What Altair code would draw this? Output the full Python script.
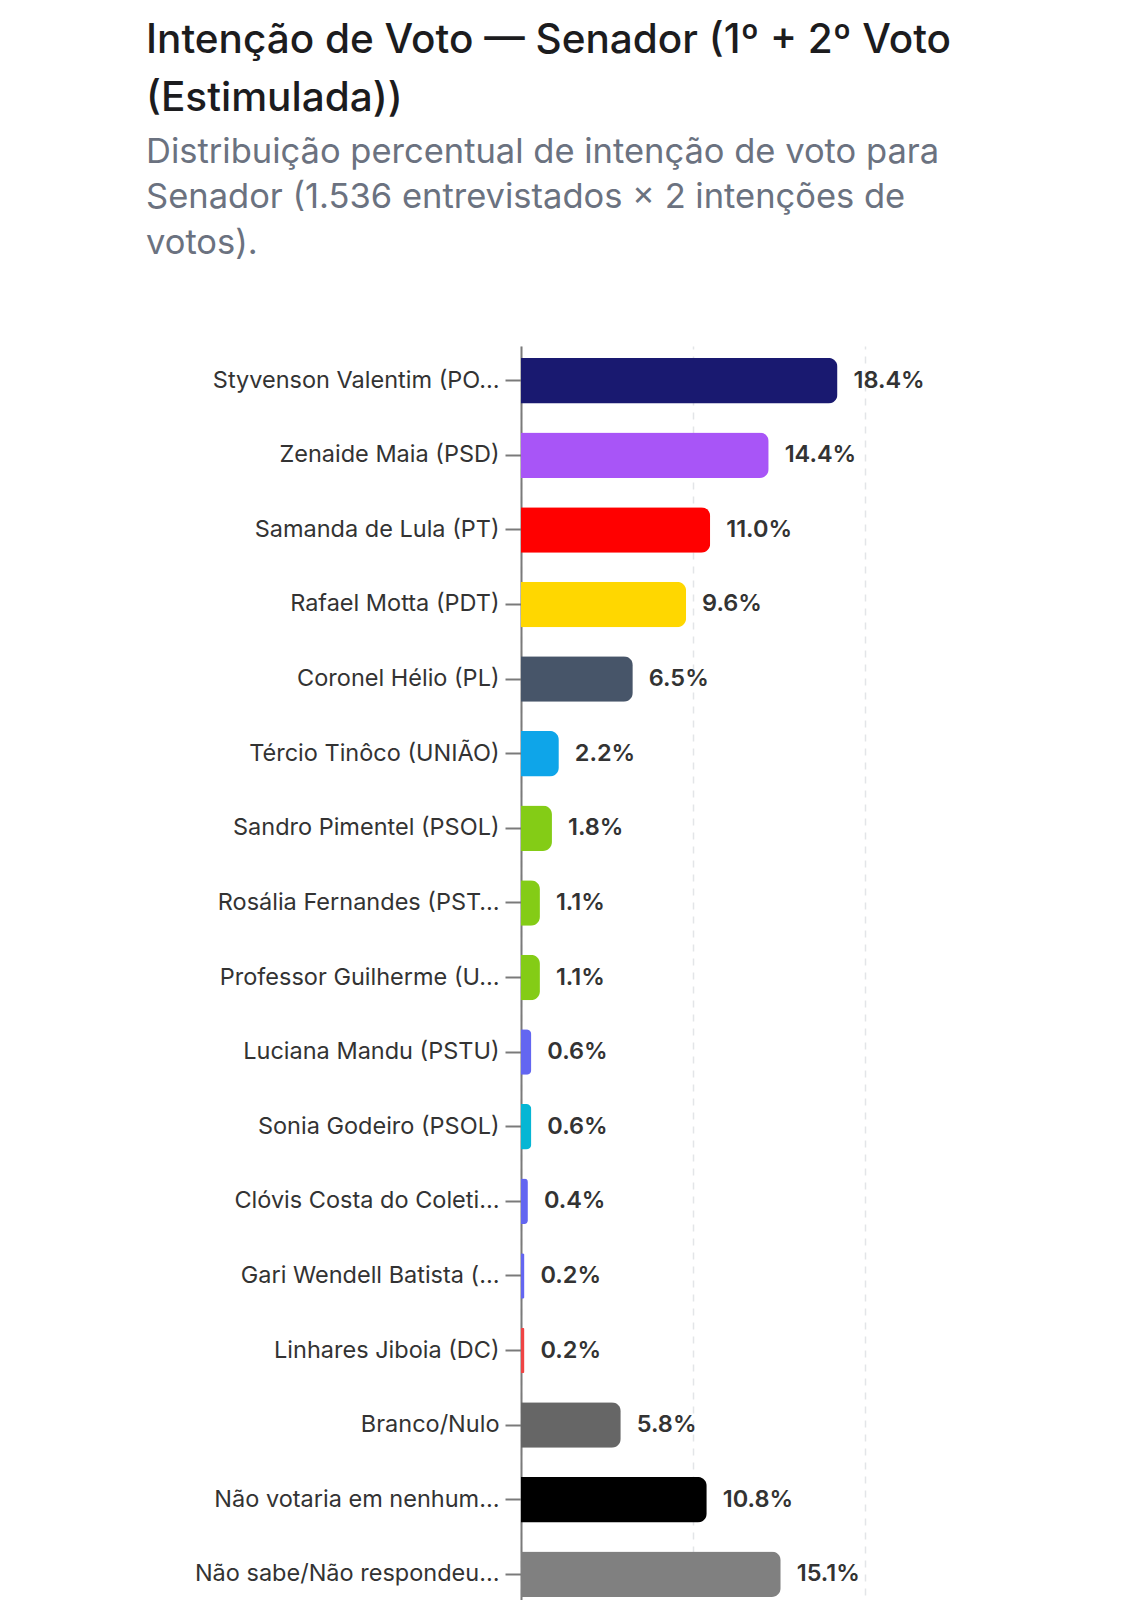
import altair as alt
import pandas as pd

candidatos = [
    "Styvenson Valentim (PO…",
    "Zenaide Maia (PSD)",
    "Samanda de Lula (PT)",
    "Rafael Motta (PDT)",
    "Coronel Hélio (PL)",
    "Tércio Tinôco (UNIÃO)",
    "Sandro Pimentel (PSOL)",
    "Rosália Fernandes (PST…",
    "Professor Guilherme (U…",
    "Luciana Mandu (PSTU)",
    "Sonia Godeiro (PSOL)",
    "Clóvis Costa do Coleti…",
    "Gari Wendell Batista (…",
    "Linhares Jiboia (DC)",
    "Branco/Nulo",
    "Não votaria em nenhum…",
    "Não sabe/Não respondeu…",
]
percentuais = [18.4, 14.4, 11.0, 9.6, 6.5, 2.2, 1.8, 1.1, 1.1, 0.6, 0.6, 0.4, 0.2, 0.2, 5.8, 10.8, 15.1]
cores = [
    "#191970", "#a855f7", "#ff0000", "#ffd700", "#475569", "#0ea5e9",
    "#84cc16", "#84cc16", "#84cc16", "#6366f1", "#06b6d4", "#6366f1",
    "#6366f1", "#ef4444", "#666666", "#000000", "#808080",
]

df = pd.DataFrame({"nome": candidatos, "pct": percentuais, "cor": cores})

FONT = "Inter"

y_enc = alt.Y(
    "nome:N",
    sort=None,
    title=None,
    scale=alt.Scale(paddingInner=0.39, paddingOuter=0.16),
    axis=alt.Axis(
        labelFontSize=23.5,
        labelFont=FONT,
        labelColor="#333333",
        labelLimit=500,
        labelPadding=6,
        tickSize=16,
        tickWidth=2,
        tickColor="#7a7a7a",
        domainColor="#7a7a7a",
        domainWidth=2,
    ),
)
x_enc = alt.X(
    "pct:Q",
    title=None,
    scale=alt.Scale(domain=[0, 20]),
    axis=alt.Axis(
        values=[0, 10, 20],
        grid=True,
        gridDash=[7, 7],
        gridColor="#e3e5e8",
        gridWidth=1.5,
        domain=False,
        ticks=False,
        labels=False,
    ),
)

bars = alt.Chart(df).mark_bar(cornerRadiusEnd=9).encode(
    x=x_enc,
    y=y_enc,
    color=alt.Color("nome:N", sort=None, scale=alt.Scale(domain=candidatos, range=cores), legend=None),
)

labels = alt.Chart(df).transform_calculate(
    rotulo="format(datum.pct, '.1f') + '%'"
).mark_text(
    align="left", baseline="middle", dx=16, fontSize=23.5, fontWeight=600, font=FONT, color="#333333"
).encode(
    x="pct:Q",
    y=alt.Y("nome:N", sort=None),
    text="rotulo:N",
)

chart = alt.layer(bars, labels).properties(
    width=344,
    height=1263,
    autosize=alt.AutoSizeParams(type="none"),
    padding={"left": 513, "top": 338, "right": 260, "bottom": 40},
    background="#ffffff",
    title=alt.TitleParams(
        text=["Intenção de Voto — Senador (1º + 2º Voto", "(Estimulada))"],
        subtitle=[
            "Distribuição percentual de intenção de voto para",
            "Senador (1.536 entrevistados × 2 intenções de",
            "votos).",
        ],
        anchor="start",
        frame="group",
        dx=-375,
        offset=86,
        font=FONT,
        fontSize=40.5,
        fontWeight=500,
        color="#1c1c1e",
        lineHeight=58,
        subtitleFont=FONT,
        subtitleFontSize=34.5,
        subtitleColor="#6b7280",
        subtitleLineHeight=45.5,
        subtitlePadding=16,
    ),
).configure_view(stroke=None)

chart.save("out.html", embed_options={"renderer": "svg", "actions": False})
